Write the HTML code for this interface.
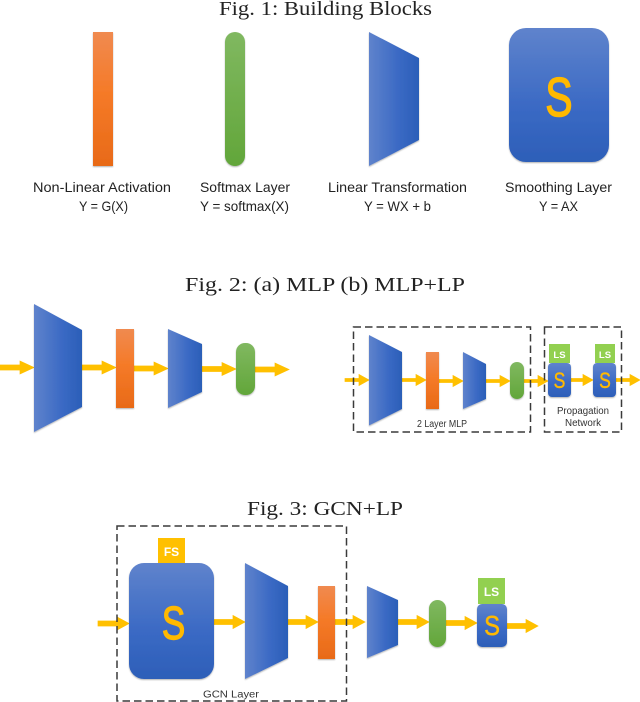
<!DOCTYPE html>
<html>
<head>
<meta charset="utf-8">
<style>
html,body{margin:0;padding:0;background:#fff;}
svg{display:block;}
.t{font-family:"Liberation Serif",serif;font-size:20px;fill:#222;}
.l{font-family:"Liberation Sans",sans-serif;font-size:14px;fill:#222;}
.s{font-family:"Liberation Sans",sans-serif;font-size:10px;fill:#333;}
.S{font-family:"Liberation Sans",sans-serif;fill:#ffb900;stroke:#ffb900;text-anchor:middle;}
.W{font-family:"Liberation Sans",sans-serif;fill:#fff;font-weight:bold;text-anchor:middle;}
.d{fill:none;stroke:#3a3a3a;stroke-width:1.5;stroke-dasharray:7.500 4;}
.a{fill:#ffc000;stroke:#ffc000;stroke-width:.7;}
</style>
</head>
<body>
<svg width="640" height="702" viewBox="0 0 640 702" xmlns="http://www.w3.org/2000/svg">
<defs>
<linearGradient id="o" x1="0" y1="0" x2="0" y2="1"><stop offset="0" stop-color="#f08a50"/><stop offset=".45" stop-color="#f57a28"/><stop offset="1" stop-color="#e86a18"/></linearGradient>
<linearGradient id="g" x1="0" y1="0" x2="0" y2="1"><stop offset="0" stop-color="#80b860"/><stop offset="1" stop-color="#62a63a"/></linearGradient>
<linearGradient id="b" x1="0" y1="0" x2="1" y2="0"><stop offset="0" stop-color="#5f83cc"/><stop offset=".6" stop-color="#3a69c4"/><stop offset="1" stop-color="#2b5fb8"/></linearGradient>
<linearGradient id="v" x1="0" y1="0" x2="0" y2="1"><stop offset="0" stop-color="#5f83cc"/><stop offset=".6" stop-color="#3a69c4"/><stop offset="1" stop-color="#2d5fb8"/></linearGradient>
<filter id="sh" x="-20%" y="-10%" width="140%" height="120%"><feDropShadow dx="0" dy="1" stdDeviation="0.8" flood-color="#000" flood-opacity=".3"/></filter>
</defs>

<!-- Fig 1 -->
<text class="t" x="219" y="15" textLength="213" lengthAdjust="spacingAndGlyphs">Fig. 1: Building Blocks</text>
<g filter="url(#sh)">
<rect x="93" y="32" width="20" height="134" fill="url(#o)"/>
<rect x="225" y="32" width="20" height="134" rx="10" fill="url(#g)"/>
<polygon points="369,32 419,58 419,140 369,166" fill="url(#b)"/>
<rect x="509" y="28" width="100" height="134" rx="17" fill="url(#v)"/>
</g>
<text class="S" transform="translate(559,116) scale(.74,1)" font-size="55" stroke-width="1.600">S</text>
<text class="l" x="33" y="192" textLength="138" lengthAdjust="spacingAndGlyphs">Non-Linear Activation</text>
<text class="l" x="79" y="211" textLength="49" lengthAdjust="spacingAndGlyphs">Y = G(X)</text>
<text class="l" x="200" y="192" textLength="90" lengthAdjust="spacingAndGlyphs">Softmax Layer</text>
<text class="l" x="200" y="211" textLength="89" lengthAdjust="spacingAndGlyphs">Y = softmax(X)</text>
<text class="l" x="328" y="192" textLength="139" lengthAdjust="spacingAndGlyphs">Linear Transformation</text>
<text class="l" x="364" y="211" textLength="67" lengthAdjust="spacingAndGlyphs">Y = WX + b</text>
<text class="l" x="505" y="192" textLength="107" lengthAdjust="spacingAndGlyphs">Smoothing Layer</text>
<text class="l" x="539" y="211" textLength="39" lengthAdjust="spacingAndGlyphs">Y = AX</text>

<!-- Fig 2 -->
<text class="t" x="185" y="291" textLength="280" lengthAdjust="spacingAndGlyphs">Fig. 2: (a) MLP (b) MLP+LP</text>
<g class="a">
<polygon points="0,365 20,365 20,361 34,367.500 20,374 20,370 0,370"/>
<polygon points="82,365 102,365 102,361 116,367.500 102,374 102,370 82,370"/>
<polygon points="134,366 154,366 154,362 168,368.500 154,375 154,371 134,371"/>
<polygon points="202,366.500 222,366.500 222,362.500 236,369 222,375.500 222,371.500 202,371.500"/>
<polygon points="255,367 275,367 275,363 289,369.500 275,376 275,372 255,372"/>
</g>
<g filter="url(#sh)">
<polygon points="34,304 82,330 82,407 34,432" fill="url(#b)"/>
<rect x="116" y="329" width="18" height="79" fill="url(#o)"/>
<polygon points="168,329 202,344 202,392 168,408" fill="url(#b)"/>
<rect x="236" y="343" width="19" height="52" rx="9" fill="url(#g)"/>
</g>

<!-- Fig 2b -->
<g class="a">
<polygon points="345,378.500 359,378.500 359,374.500 369,380 359,385.500 359,381.500 345,381.500"/>
<polygon points="402,378.500 416,378.500 416,374.500 426,380 416,385.500 416,381.500 402,381.500"/>
<polygon points="439,379.500 453,379.500 453,375.500 463,381 453,386.500 453,382.500 439,382.500"/>
<polygon points="486,379.500 500,379.500 500,375.500 510,381 500,386.500 500,382.500 486,382.500"/>
<polygon points="524,379.500 538,379.500 538,375.500 548,381 538,386.500 538,382.500 524,382.500"/>
<polygon points="571,378.500 583,378.500 583,374.500 593,380 583,385.500 583,381.500 571,381.500"/>
<polygon points="616,378.500 630,378.500 630,374.500 640,380 630,385.500 630,381.500 616,381.500"/>
</g>
<g filter="url(#sh)">
<polygon points="369,335 402,352 402,409 369,425.500" fill="url(#b)"/>
<rect x="426" y="352" width="13" height="57" fill="url(#o)"/>
<polygon points="463,352 486,364 486,399 463,409" fill="url(#b)"/>
<rect x="510" y="362" width="14" height="37" rx="7" fill="url(#g)"/>
<rect x="548" y="363" width="23" height="34" rx="4" fill="url(#v)"/>
<rect x="593" y="363" width="23" height="34" rx="4" fill="url(#v)"/>
</g>
<rect x="549" y="344" width="21" height="19" fill="#92d050"/>
<rect x="595" y="344" width="20" height="19" fill="#92d050"/>
<text class="W" x="559.500" y="358" font-size="9.500">LS</text>
<text class="W" x="605" y="358" font-size="9.500">LS</text>
<text class="S" transform="translate(559.500,388) scale(.8,1)" font-size="22" stroke-width=".4">S</text>
<text class="S" transform="translate(605,388) scale(.8,1)" font-size="22" stroke-width=".4">S</text>
<rect class="d" x="353.500" y="327" width="177" height="105"/>
<rect class="d" x="544.500" y="327" width="77" height="105"/>
<text class="s" x="417" y="427" textLength="50" lengthAdjust="spacingAndGlyphs">2 Layer MLP</text>
<text class="s" x="557" y="414" textLength="52" lengthAdjust="spacingAndGlyphs">Propagation</text>
<text class="s" x="565" y="426" textLength="36" lengthAdjust="spacingAndGlyphs">Network</text>

<!-- Fig 3 -->
<text class="t" x="247" y="515" textLength="156" lengthAdjust="spacingAndGlyphs">Fig. 3: GCN+LP</text>
<g class="a">
<polygon points="98,621 117,621 117,617 129,623.500 117,630 117,626 98,626"/>
<polygon points="214,619.500 233,619.500 233,615.500 245,622 233,628.500 233,624.500 214,624.500"/>
<polygon points="288,619.500 306,619.500 306,615.500 318,622 306,628.500 306,624.500 288,624.500"/>
<polygon points="335,619.500 353,619.500 353,615.500 365,622 353,628.500 353,624.500 335,624.500"/>
<polygon points="398,619.500 417,619.500 417,615.500 429,622 417,628.500 417,624.500 398,624.500"/>
<polygon points="446,620.500 465,620.500 465,616.500 477,623 465,629.500 465,625.500 446,625.500"/>
<polygon points="507,623.500 526,623.500 526,619.500 538,626 526,632.500 526,628.500 507,628.500"/>
</g>
<rect x="158" y="538" width="27" height="25" fill="#ffc000"/>
<rect x="478" y="578" width="27" height="26" fill="#92d050"/>
<g filter="url(#sh)">
<rect x="129" y="563" width="85" height="116" rx="15" fill="url(#v)"/>
<polygon points="245,563 288,586 288,658 245,679" fill="url(#b)"/>
<rect x="318" y="586" width="17" height="73" fill="url(#o)"/>
<polygon points="367,586 398,600 398,645 367,658" fill="url(#b)"/>
<rect x="429" y="600" width="17" height="47" rx="8.500" fill="url(#g)"/>
<rect x="477" y="604" width="30" height="43" rx="5" fill="url(#v)"/>
</g>
<text class="W" x="171.500" y="556" font-size="12">FS</text>
<text class="W" x="491.500" y="596" font-size="12">LS</text>
<text class="S" transform="translate(173.500,639) scale(.76,1)" font-size="46" stroke-width="1.400">S</text>
<text class="S" transform="translate(492,635) scale(.85,1)" font-size="28" stroke-width=".5">S</text>
<rect class="d" x="117" y="526" width="229.500" height="175"/>
<text class="s" x="203" y="697.500" textLength="56" lengthAdjust="spacingAndGlyphs">GCN Layer</text>
</svg>
</body>
</html>
